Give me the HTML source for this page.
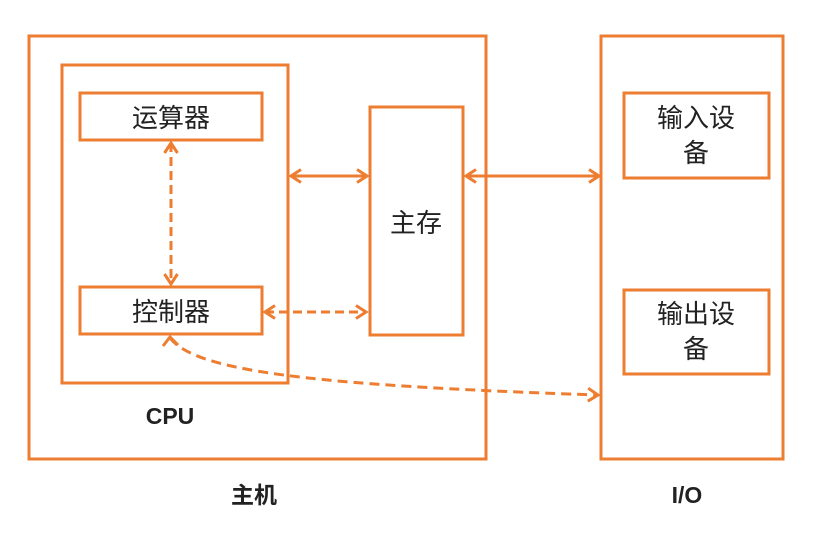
<!DOCTYPE html>
<html><head><meta charset="utf-8"><style>
body{margin:0;background:#fff;}
text{font-family:"Liberation Sans","Noto Sans CJK SC",sans-serif;fill:#222;}
</style></head><body>
<svg width="825" height="538" viewBox="0 0 825 538" xmlns="http://www.w3.org/2000/svg">
<defs>
<marker id="a" markerWidth="16" markerHeight="16" refX="13" refY="8" orient="auto-start-reverse" markerUnits="userSpaceOnUse">
<path d="M3,1.5 L13,8 L3,14.5" fill="none" stroke="#ED7D31" stroke-width="3"/>
</marker>
</defs>
<g fill="none" stroke="#ED7D31" stroke-width="3">
<rect x="29" y="36" width="457" height="423"/>
<rect x="62" y="65" width="226" height="318"/>
<rect x="80" y="93" width="182" height="47"/>
<rect x="80" y="287" width="182" height="47"/>
<rect x="370" y="107" width="93" height="228"/>
<rect x="601" y="36" width="182" height="423"/>
<rect x="624" y="93" width="145" height="85"/>
<rect x="624" y="290" width="145" height="84"/>
<line x1="291" y1="176" x2="367" y2="176" marker-start="url(#a)" marker-end="url(#a)"/>
<line x1="466" y1="176" x2="599" y2="176" marker-start="url(#a)" marker-end="url(#a)"/>
<line x1="171" y1="143" x2="171" y2="284" stroke-dasharray="9,5" marker-start="url(#a)" marker-end="url(#a)"/>
<line x1="265" y1="312" x2="366" y2="312" stroke-dasharray="9,5" marker-start="url(#a)" marker-end="url(#a)"/>
<path d="M170,338 C195,370 300,385 598,395" stroke-dasharray="10,6" marker-end="url(#a)"/>
<path d="M163,346 L170,337 L178,345" fill="none"/>
</g>
<text x="171" y="127" font-size="26" text-anchor="middle">运算器</text>
<text x="171" y="321" font-size="26" text-anchor="middle">控制器</text>
<text x="416" y="232" font-size="26" text-anchor="middle">主存</text>
<text x="696" y="127" font-size="26" text-anchor="middle">输入设</text>
<text x="696" y="162" font-size="26" text-anchor="middle">备</text>
<text x="696" y="323" font-size="26" text-anchor="middle">输出设</text>
<text x="696" y="358" font-size="26" text-anchor="middle">备</text>
<text x="170" y="424" font-size="23" font-weight="bold" text-anchor="middle">CPU</text>
<text x="254" y="503" font-size="23" font-weight="bold" text-anchor="middle">主机</text>
<text x="687" y="503" font-size="23" font-weight="bold" text-anchor="middle">I/O</text>
</svg>
</body></html>
